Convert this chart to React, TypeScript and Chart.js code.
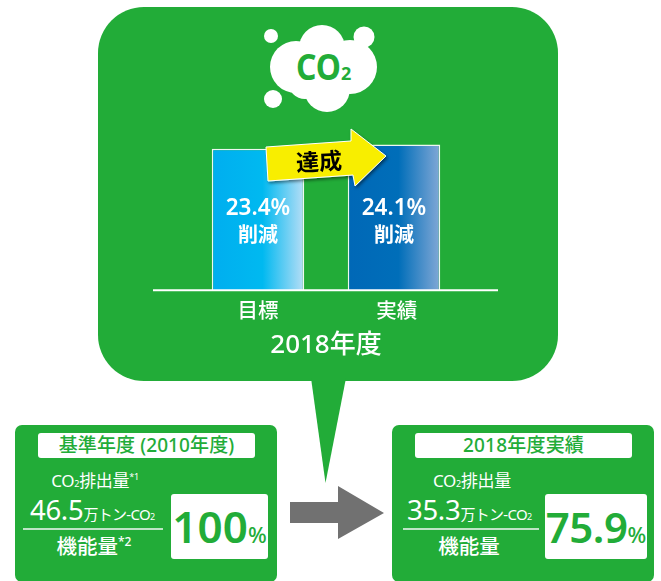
import React, { useEffect, useRef } from "react";
import { Chart, registerables } from "chart.js";

Chart.register(...registerables);

const categories = ["目標", "実績"];
const reductionPercent = [23.4, 24.1];
const reductionLabels = ["23.4%", "24.1%"];
const reductionCaption = "削減";
const fiscalYearTitle = "2018年度";
const arrowCaption = "達成";
const barGradients = [
  ["#00aeef", "#00b9f0", "#b8def6"],
  ["#0068b7", "#006eb9", "#82a8d6"],
];

const cardTitles = ["基準年度 (2010年度)", "2018年度実績"];
const cardAmounts = ["46.5", "35.3"];
const cardRatios = ["100", "75.9"];
const emissionNotes = ["*1", ""];
const functionNotes = ["*2", ""];

const GREEN = "#22ac38";
const FONT = '"Noto Sans", "Noto Sans CJK JP", sans-serif';

const barLabelPlugin = {
  id: "barLabels",
  afterDatasetsDraw(chart: any) {
    const { ctx } = chart;
    const bars = chart.getDatasetMeta(0).data;
    ctx.save();
    ctx.fillStyle = "#fff";
    ctx.textAlign = "center";
    ctx.textBaseline = "middle";
    bars.forEach((bar: any, i: number) => {
      const base = chart.scales.y.getPixelForValue(0);
      ctx.font = `600 22.5px ${FONT}`;
      ctx.fillText(reductionLabels[i], bar.x, base - 82);
      ctx.font = `600 20px ${FONT}`;
      ctx.fillText(reductionCaption, bar.x, base - 54);
    });
    ctx.restore();
  },
};

const baselinePlugin = {
  id: "baseline",
  afterDatasetsDraw(chart: any) {
    const { ctx, chartArea } = chart;
    const y = chart.scales.y.getPixelForValue(0);
    ctx.save();
    ctx.strokeStyle = "#fff";
    ctx.lineWidth = 2;
    ctx.beginPath();
    ctx.moveTo(chartArea.left - 37, y);
    ctx.lineTo(chartArea.right + 36, y);
    ctx.stroke();
    ctx.restore();
  },
};

function ReductionChart() {
  const ref = useRef<HTMLCanvasElement>(null);
  useEffect(() => {
    const chart = new Chart(ref.current!, {
      type: "bar",
      data: {
        labels: categories,
        datasets: [
          {
            data: reductionPercent,
            categoryPercentage: 1,
            barPercentage: 0.68,
            borderColor: "#eef8f0",
            borderWidth: 1.5,
            backgroundColor: (c: any) => {
              const x = c.chart.scales.x;
              if (!x || !x.width) return barGradients[c.dataIndex][0];
              const half = ((x.width / categories.length) * 0.68) / 2;
              const cx = x.getPixelForValue(c.dataIndex);
              const g = c.chart.ctx.createLinearGradient(cx - half, 0, cx + half, 0);
              const stops = barGradients[c.dataIndex];
              g.addColorStop(0, stops[0]);
              g.addColorStop(0.55, stops[1]);
              g.addColorStop(1, stops[2]);
              return g;
            },
          },
        ],
      },
      options: {
        animation: false,
        responsive: false,
        layout: { padding: { left: 92, right: 95, top: 0, bottom: 0 } },
        plugins: { legend: { display: false }, tooltip: { enabled: false } },
        scales: {
          x: {
            grid: { display: false },
            border: { display: false },
            ticks: {
              color: "#fff",
              font: { family: FONT, size: 20.5, weight: "500" },
              padding: 2,
              maxRotation: 0,
              callback: (_v: any, i: number) => (i === 1 ? " " + categories[i] : categories[i]),
            },
            title: {
              display: true,
              text: fiscalYearTitle,
              color: "#fff",
              font: { family: FONT, size: 26, weight: "500" },
              padding: { top: 3, bottom: 0 },
            },
          },
          y: { display: false, min: 0, max: 48 },
        },
      },
      plugins: [barLabelPlugin, baselinePlugin],
    } as any);
    return () => chart.destroy();
  }, []);
  return (
    <canvas
      ref={ref}
      width={459}
      height={361}
      style={{ position: "absolute", left: 98, top: 0, width: 459, height: 361 }}
    />
  );
}

function Backdrop() {
  return (
    <svg width={661} height={581} style={{ position: "absolute", left: 0, top: 0 }}>
      <rect x={98} y={7} width={460} height={374} rx={46} fill={GREEN} />
      <polygon points="311,378 325.5,483 346,378" fill={GREEN} />
      <polygon points="290,502 338,502 338,486 384,513 338,539 338,523 290,523" fill="#717171" />
      <g fill="#fff">
        <circle cx={271} cy={36} r={7} />
        <circle cx={364} cy={37} r={10.5} />
        <circle cx={273} cy={99} r={9} />
        <circle cx={296} cy={67} r={26} />
        <circle cx={322} cy={48} r={23} />
        <circle cx={350} cy={67} r={27} />
        <circle cx={327} cy={89} r={23} />
        <circle cx={305} cy={82} r={17} />
        <circle cx={322} cy={65} r={26} />
      </g>
      <text x={296} y={80} fill={GREEN} fontFamily={FONT} fontSize={36} fontWeight={700} textLength={45} lengthAdjust="spacingAndGlyphs">
        CO
      </text>
      <text x={341} y={80} fill={GREEN} fontFamily={FONT} fontSize={18} fontWeight={700}>
        2
      </text>
    </svg>
  );
}

function Arrow() {
  return (
    <svg width={661} height={300} style={{ position: "absolute", left: 0, top: 0 }}>
      <defs>
        <filter id="s" x="-20%" y="-20%" width="140%" height="140%">
          <feDropShadow dx={1.5} dy={2} stdDeviation={1.5} floodColor="#000" floodOpacity={0.45} />
        </filter>
      </defs>
      <polygon
        points="266,147 351,141 351,129 386,156 355,186 353,175 268,181"
        fill="#f8ee00"
        stroke="#fff"
        strokeWidth={1}
        filter="url(#s)"
      />
      <text
        x={319}
        y={170}
        textAnchor="middle"
        fontFamily={FONT}
        fontSize={23}
        fontWeight={700}
        fill="#000"
        transform="rotate(-3 319 162)"
      >
        {arrowCaption}
      </text>
    </svg>
  );
}

const abs = (s: React.CSSProperties): React.CSSProperties => ({
  position: "absolute",
  whiteSpace: "nowrap",
  lineHeight: 1,
  ...s,
});

function Card({ index, left }: { index: number; left: number }) {
  const emission = emissionNotes[index];
  const fn = functionNotes[index];
  const first = index === 0;
  return (
    <div
      style={{
        position: "absolute",
        left,
        top: 425,
        width: 262,
        height: 157,
        background: GREEN,
        borderRadius: 7,
        fontFamily: FONT,
        color: "#fff",
      }}
    >
      <div
        style={abs({
          left: 23,
          top: 8,
          width: 217,
          height: 25,
          background: "#fff",
          borderRadius: 3,
          color: GREEN,
          fontSize: 19,
          fontWeight: 500,
          textAlign: "center",
          lineHeight: "24px",
          letterSpacing: first ? 0.1 : 0.2,
        })}
      >
        {cardTitles[index]}
      </div>
      <div style={abs({ left: 0, width: 160, top: 47, fontSize: 17, textAlign: "center", letterSpacing: -0.3 })}>
        CO<span style={{ fontSize: 9 }}>2</span>排出量
        {emission && <sup style={{ fontSize: 9, lineHeight: 0 }}>{emission}</sup>}
      </div>
      <div style={abs({ left: 15, top: 71, display: "flex", alignItems: "baseline" })}>
        <span style={{ fontSize: 27.5, letterSpacing: -0.3 }}>{cardAmounts[index]}</span>
        <span style={{ fontSize: 15, letterSpacing: -0.7 }}>
          万トン-CO<span style={{ fontSize: 9 }}>2</span>
        </span>
      </div>
      <div style={abs({ left: first ? 8 : 11, top: 103, width: first ? 140 : 136, height: 2, background: "#bfe5c6" })} />
      <div
        style={abs({
          left: first ? -1 : -3,
          width: 160,
          top: 111,
          fontSize: 20.5,
          fontWeight: 500,
          textAlign: "center",
        })}
      >
        機能量
        {fn && <sup style={{ fontSize: 12, lineHeight: 0 }}>{fn}</sup>}
      </div>
      <div
        style={abs({
          left: first ? 156 : 153,
          top: 69,
          width: first ? 97 : 102,
          height: 65,
          background: "#fff",
          borderRadius: 3,
          color: GREEN,
          display: "flex",
          alignItems: "baseline",
          justifyContent: "center",
          lineHeight: "65px",
          fontWeight: 600,
        })}
      >
        <span style={{ fontSize: first ? 44 : 42, letterSpacing: first ? 0 : -0.5 }}>{cardRatios[index]}</span>
        <span style={{ fontSize: 22, fontWeight: 500 }}>%</span>
      </div>
    </div>
  );
}

export default function App() {
  return (
    <div style={{ position: "absolute", left: 0, top: 0, width: 661, height: 581, overflow: "hidden", background: "#fff" }}>
      <Backdrop />
      <ReductionChart />
      <Arrow />
      <Card index={0} left={15} />
      <Card index={1} left={392} />
    </div>
  );
}
